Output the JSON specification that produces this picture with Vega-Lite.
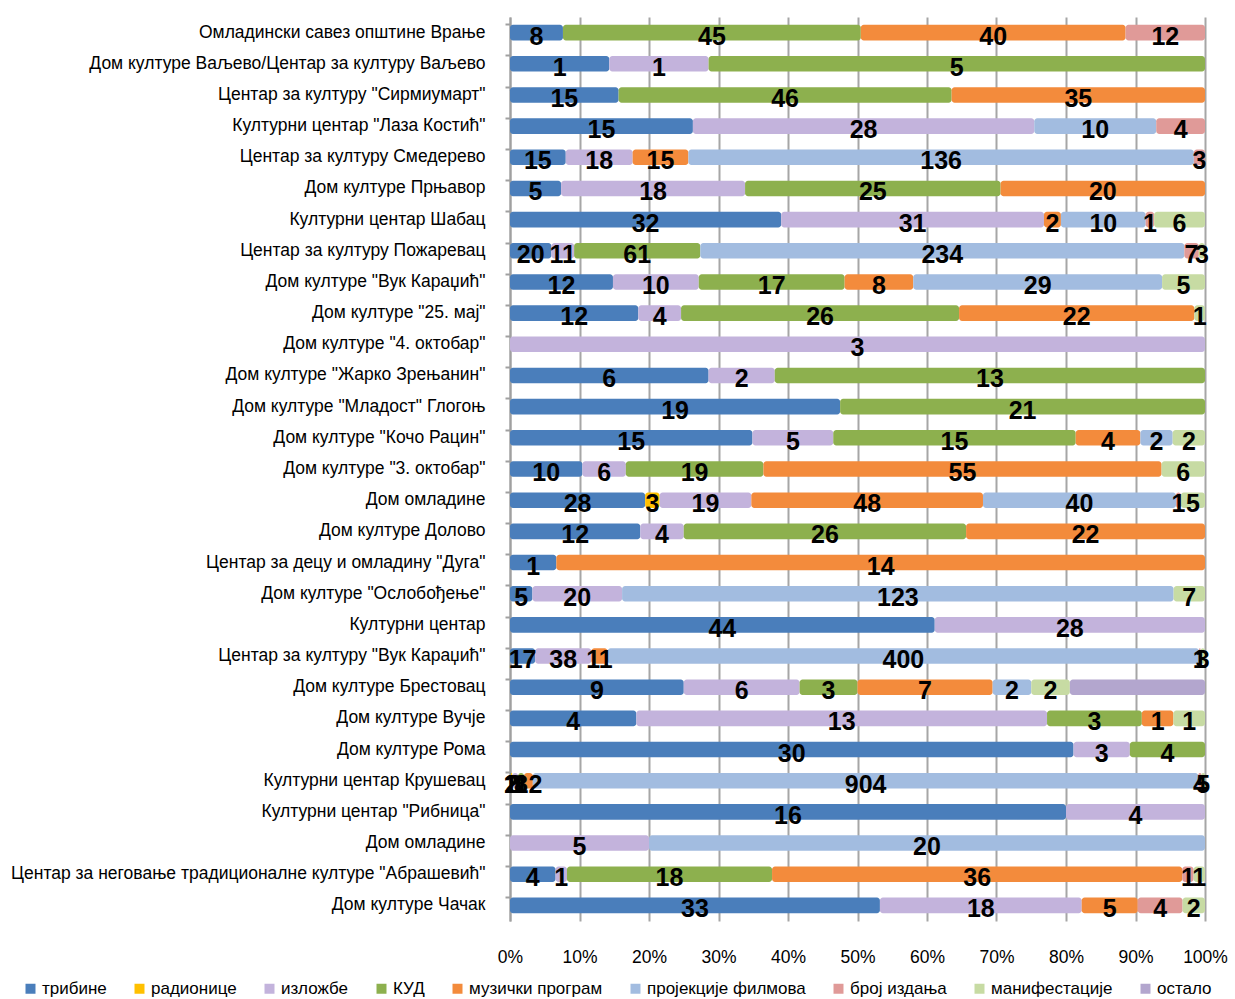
{
  "$schema": "https://vega.github.io/schema/vega-lite/v6.json",
  "width": 695,
  "height": 904,
  "autosize": {"type": "none"},
  "padding": {"left": 510, "top": 17, "right": 30, "bottom": 78},
  "background": "white",
  "config": {"view": {"stroke": null}, "font": "Liberation Sans", "text": {"font": "Liberation Sans"}},
  "data": {"values": [
    {"o": "Омладински савез општине Врање", "r": 1, "c": "трибине", "k": 0, "v": 8},
    {"o": "Омладински савез општине Врање", "r": 1, "c": "КУД", "k": 3, "v": 45},
    {"o": "Омладински савез општине Врање", "r": 1, "c": "музички програм", "k": 4, "v": 40},
    {"o": "Омладински савез општине Врање", "r": 1, "c": "број издања", "k": 6, "v": 12},
    {"o": "Дом културе Ваљево/Центар за културу Ваљево", "r": 2, "c": "трибине", "k": 0, "v": 1},
    {"o": "Дом културе Ваљево/Центар за културу Ваљево", "r": 2, "c": "изложбе", "k": 2, "v": 1},
    {"o": "Дом културе Ваљево/Центар за културу Ваљево", "r": 2, "c": "КУД", "k": 3, "v": 5},
    {"o": "Центар за културу \"Сирмиумарт\"", "r": 3, "c": "трибине", "k": 0, "v": 15},
    {"o": "Центар за културу \"Сирмиумарт\"", "r": 3, "c": "КУД", "k": 3, "v": 46},
    {"o": "Центар за културу \"Сирмиумарт\"", "r": 3, "c": "музички програм", "k": 4, "v": 35},
    {"o": "Културни центар \"Лаза Костић\"", "r": 4, "c": "трибине", "k": 0, "v": 15},
    {"o": "Културни центар \"Лаза Костић\"", "r": 4, "c": "изложбе", "k": 2, "v": 28},
    {"o": "Културни центар \"Лаза Костић\"", "r": 4, "c": "пројекције филмова", "k": 5, "v": 10},
    {"o": "Културни центар \"Лаза Костић\"", "r": 4, "c": "број издања", "k": 6, "v": 4},
    {"o": "Центар за културу Смедерево", "r": 5, "c": "трибине", "k": 0, "v": 15},
    {"o": "Центар за културу Смедерево", "r": 5, "c": "изложбе", "k": 2, "v": 18},
    {"o": "Центар за културу Смедерево", "r": 5, "c": "музички програм", "k": 4, "v": 15},
    {"o": "Центар за културу Смедерево", "r": 5, "c": "пројекције филмова", "k": 5, "v": 136},
    {"o": "Центар за културу Смедерево", "r": 5, "c": "број издања", "k": 6, "v": 3},
    {"o": "Дом културе Прњавор", "r": 6, "c": "трибине", "k": 0, "v": 5},
    {"o": "Дом културе Прњавор", "r": 6, "c": "изложбе", "k": 2, "v": 18},
    {"o": "Дом културе Прњавор", "r": 6, "c": "КУД", "k": 3, "v": 25},
    {"o": "Дом културе Прњавор", "r": 6, "c": "музички програм", "k": 4, "v": 20},
    {"o": "Културни центар Шабац", "r": 7, "c": "трибине", "k": 0, "v": 32},
    {"o": "Културни центар Шабац", "r": 7, "c": "изложбе", "k": 2, "v": 31},
    {"o": "Културни центар Шабац", "r": 7, "c": "музички програм", "k": 4, "v": 2},
    {"o": "Културни центар Шабац", "r": 7, "c": "пројекције филмова", "k": 5, "v": 10},
    {"o": "Културни центар Шабац", "r": 7, "c": "број издања", "k": 6, "v": 1},
    {"o": "Културни центар Шабац", "r": 7, "c": "манифестације", "k": 7, "v": 6},
    {"o": "Центар за културу Пожаревац", "r": 8, "c": "трибине", "k": 0, "v": 20},
    {"o": "Центар за културу Пожаревац", "r": 8, "c": "изложбе", "k": 2, "v": 11},
    {"o": "Центар за културу Пожаревац", "r": 8, "c": "КУД", "k": 3, "v": 61},
    {"o": "Центар за културу Пожаревац", "r": 8, "c": "пројекције филмова", "k": 5, "v": 234},
    {"o": "Центар за културу Пожаревац", "r": 8, "c": "број издања", "k": 6, "v": 7},
    {"o": "Центар за културу Пожаревац", "r": 8, "c": "манифестације", "k": 7, "v": 3},
    {"o": "Дом културе \"Вук Караџић\"", "r": 9, "c": "трибине", "k": 0, "v": 12},
    {"o": "Дом културе \"Вук Караџић\"", "r": 9, "c": "изложбе", "k": 2, "v": 10},
    {"o": "Дом културе \"Вук Караџић\"", "r": 9, "c": "КУД", "k": 3, "v": 17},
    {"o": "Дом културе \"Вук Караџић\"", "r": 9, "c": "музички програм", "k": 4, "v": 8},
    {"o": "Дом културе \"Вук Караџић\"", "r": 9, "c": "пројекције филмова", "k": 5, "v": 29},
    {"o": "Дом културе \"Вук Караџић\"", "r": 9, "c": "манифестације", "k": 7, "v": 5},
    {"o": "Дом културе \"25. мај\"", "r": 10, "c": "трибине", "k": 0, "v": 12},
    {"o": "Дом културе \"25. мај\"", "r": 10, "c": "изложбе", "k": 2, "v": 4},
    {"o": "Дом културе \"25. мај\"", "r": 10, "c": "КУД", "k": 3, "v": 26},
    {"o": "Дом културе \"25. мај\"", "r": 10, "c": "музички програм", "k": 4, "v": 22},
    {"o": "Дом културе \"25. мај\"", "r": 10, "c": "манифестације", "k": 7, "v": 1},
    {"o": "Дом културе \"4. октобар\"", "r": 11, "c": "изложбе", "k": 2, "v": 3},
    {"o": "Дом културе \"Жарко Зрењанин\"", "r": 12, "c": "трибине", "k": 0, "v": 6},
    {"o": "Дом културе \"Жарко Зрењанин\"", "r": 12, "c": "изложбе", "k": 2, "v": 2},
    {"o": "Дом културе \"Жарко Зрењанин\"", "r": 12, "c": "КУД", "k": 3, "v": 13},
    {"o": "Дом културе \"Младост\" Глогоњ", "r": 13, "c": "трибине", "k": 0, "v": 19},
    {"o": "Дом културе \"Младост\" Глогоњ", "r": 13, "c": "КУД", "k": 3, "v": 21},
    {"o": "Дом културе \"Кочо Рацин\"", "r": 14, "c": "трибине", "k": 0, "v": 15},
    {"o": "Дом културе \"Кочо Рацин\"", "r": 14, "c": "изложбе", "k": 2, "v": 5},
    {"o": "Дом културе \"Кочо Рацин\"", "r": 14, "c": "КУД", "k": 3, "v": 15},
    {"o": "Дом културе \"Кочо Рацин\"", "r": 14, "c": "музички програм", "k": 4, "v": 4},
    {"o": "Дом културе \"Кочо Рацин\"", "r": 14, "c": "пројекције филмова", "k": 5, "v": 2},
    {"o": "Дом културе \"Кочо Рацин\"", "r": 14, "c": "манифестације", "k": 7, "v": 2},
    {"o": "Дом културе \"3. октобар\"", "r": 15, "c": "трибине", "k": 0, "v": 10},
    {"o": "Дом културе \"3. октобар\"", "r": 15, "c": "изложбе", "k": 2, "v": 6},
    {"o": "Дом културе \"3. октобар\"", "r": 15, "c": "КУД", "k": 3, "v": 19},
    {"o": "Дом културе \"3. октобар\"", "r": 15, "c": "музички програм", "k": 4, "v": 55},
    {"o": "Дом културе \"3. октобар\"", "r": 15, "c": "манифестације", "k": 7, "v": 6},
    {"o": "Дом омладине", "r": 16, "c": "трибине", "k": 0, "v": 28},
    {"o": "Дом омладине", "r": 16, "c": "радионице", "k": 1, "v": 3},
    {"o": "Дом омладине", "r": 16, "c": "изложбе", "k": 2, "v": 19},
    {"o": "Дом омладине", "r": 16, "c": "музички програм", "k": 4, "v": 48},
    {"o": "Дом омладине", "r": 16, "c": "пројекције филмова", "k": 5, "v": 40},
    {"o": "Дом омладине", "r": 16, "c": "број издања", "k": 6, "v": 1},
    {"o": "Дом омладине", "r": 16, "c": "манифестације", "k": 7, "v": 5},
    {"o": "Дом културе Долово", "r": 17, "c": "трибине", "k": 0, "v": 12},
    {"o": "Дом културе Долово", "r": 17, "c": "изложбе", "k": 2, "v": 4},
    {"o": "Дом културе Долово", "r": 17, "c": "КУД", "k": 3, "v": 26},
    {"o": "Дом културе Долово", "r": 17, "c": "музички програм", "k": 4, "v": 22},
    {"o": "Центар за децу и омладину \"Дуга\"", "r": 18, "c": "трибине", "k": 0, "v": 1},
    {"o": "Центар за децу и омладину \"Дуга\"", "r": 18, "c": "музички програм", "k": 4, "v": 14},
    {"o": "Дом културе \"Ослобођење\"", "r": 19, "c": "трибине", "k": 0, "v": 5},
    {"o": "Дом културе \"Ослобођење\"", "r": 19, "c": "изложбе", "k": 2, "v": 20},
    {"o": "Дом културе \"Ослобођење\"", "r": 19, "c": "пројекције филмова", "k": 5, "v": 123},
    {"o": "Дом културе \"Ослобођење\"", "r": 19, "c": "манифестације", "k": 7, "v": 7},
    {"o": "Културни центар", "r": 20, "c": "трибине", "k": 0, "v": 44},
    {"o": "Културни центар", "r": 20, "c": "изложбе", "k": 2, "v": 28},
    {"o": "Центар за културу \"Вук Караџић\"", "r": 21, "c": "трибине", "k": 0, "v": 17},
    {"o": "Центар за културу \"Вук Караџић\"", "r": 21, "c": "изложбе", "k": 2, "v": 38},
    {"o": "Центар за културу \"Вук Караџић\"", "r": 21, "c": "музички програм", "k": 4, "v": 11},
    {"o": "Центар за културу \"Вук Караџић\"", "r": 21, "c": "пројекције филмова", "k": 5, "v": 400},
    {"o": "Центар за културу \"Вук Караџић\"", "r": 21, "c": "број издања", "k": 6, "v": 1},
    {"o": "Центар за културу \"Вук Караџић\"", "r": 21, "c": "манифестације", "k": 7, "v": 3},
    {"o": "Дом културе Брестовац", "r": 22, "c": "трибине", "k": 0, "v": 9},
    {"o": "Дом културе Брестовац", "r": 22, "c": "изложбе", "k": 2, "v": 6},
    {"o": "Дом културе Брестовац", "r": 22, "c": "КУД", "k": 3, "v": 3},
    {"o": "Дом културе Брестовац", "r": 22, "c": "музички програм", "k": 4, "v": 7},
    {"o": "Дом културе Брестовац", "r": 22, "c": "пројекције филмова", "k": 5, "v": 2},
    {"o": "Дом културе Брестовац", "r": 22, "c": "манифестације", "k": 7, "v": 2},
    {"o": "Дом културе Брестовац", "r": 22, "c": "остало", "k": 8, "v": 7},
    {"o": "Дом културе Вучје", "r": 23, "c": "трибине", "k": 0, "v": 4},
    {"o": "Дом културе Вучје", "r": 23, "c": "изложбе", "k": 2, "v": 13},
    {"o": "Дом културе Вучје", "r": 23, "c": "КУД", "k": 3, "v": 3},
    {"o": "Дом културе Вучје", "r": 23, "c": "музички програм", "k": 4, "v": 1},
    {"o": "Дом културе Вучје", "r": 23, "c": "манифестације", "k": 7, "v": 1},
    {"o": "Дом културе Рома", "r": 24, "c": "трибине", "k": 0, "v": 30},
    {"o": "Дом културе Рома", "r": 24, "c": "изложбе", "k": 2, "v": 3},
    {"o": "Дом културе Рома", "r": 24, "c": "КУД", "k": 3, "v": 4},
    {"o": "Културни центар Крушевац", "r": 25, "c": "трибине", "k": 0, "v": 1},
    {"o": "Културни центар Крушевац", "r": 25, "c": "радионице", "k": 1, "v": 2},
    {"o": "Културни центар Крушевац", "r": 25, "c": "изложбе", "k": 2, "v": 8},
    {"o": "Културни центар Крушевац", "r": 25, "c": "КУД", "k": 3, "v": 8},
    {"o": "Културни центар Крушевац", "r": 25, "c": "музички програм", "k": 4, "v": 12},
    {"o": "Културни центар Крушевац", "r": 25, "c": "пројекције филмова", "k": 5, "v": 904},
    {"o": "Културни центар Крушевац", "r": 25, "c": "број издања", "k": 6, "v": 4},
    {"o": "Културни центар Крушевац", "r": 25, "c": "манифестације", "k": 7, "v": 5},
    {"o": "Културни центар \"Рибница\"", "r": 26, "c": "трибине", "k": 0, "v": 16},
    {"o": "Културни центар \"Рибница\"", "r": 26, "c": "изложбе", "k": 2, "v": 4},
    {"o": "Дом омладине\u200b", "r": 27, "c": "изложбе", "k": 2, "v": 5},
    {"o": "Дом омладине\u200b", "r": 27, "c": "пројекције филмова", "k": 5, "v": 20},
    {"o": "Центар за неговање традиционалне културе \"Абрашевић\"", "r": 28, "c": "трибине", "k": 0, "v": 4},
    {"o": "Центар за неговање традиционалне културе \"Абрашевић\"", "r": 28, "c": "изложбе", "k": 2, "v": 1},
    {"o": "Центар за неговање традиционалне културе \"Абрашевић\"", "r": 28, "c": "КУД", "k": 3, "v": 18},
    {"o": "Центар за неговање традиционалне културе \"Абрашевић\"", "r": 28, "c": "музички програм", "k": 4, "v": 36},
    {"o": "Центар за неговање традиционалне културе \"Абрашевић\"", "r": 28, "c": "број издања", "k": 6, "v": 1},
    {"o": "Центар за неговање традиционалне културе \"Абрашевић\"", "r": 28, "c": "манифестације", "k": 7, "v": 1},
    {"o": "Дом културе Чачак", "r": 29, "c": "трибине", "k": 0, "v": 33},
    {"o": "Дом културе Чачак", "r": 29, "c": "изложбе", "k": 2, "v": 18},
    {"o": "Дом културе Чачак", "r": 29, "c": "музички програм", "k": 4, "v": 5},
    {"o": "Дом културе Чачак", "r": 29, "c": "број издања", "k": 6, "v": 4},
    {"o": "Дом културе Чачак", "r": 29, "c": "манифестације", "k": 7, "v": 2}
  ]},
  "transform": [
    {"stack": "v", "groupby": ["o"], "sort": [{"field": "k", "order": "ascending"}], "offset": "normalize", "as": ["s0", "s1"]},
    {"calculate": "(datum.s0 + datum.s1) / 2", "as": "mid"}
  ],
  "encoding": {
    "y": {
      "field": "o", "type": "nominal",
      "sort": {"field": "r", "op": "min", "order": "ascending"},
      "scale": {"paddingInner": 0.5, "paddingOuter": 0.25},
      "axis": {
        "title": null, "labelFontSize": 17.5, "labelColor": "#000000", "labelLimit": 700,
        "labelPadding": 20, "domain": true, "domainColor": "#A0A0A0", "domainWidth": 2,
        "ticks": true, "tickSize": 5, "tickColor": "#A0A0A0", "tickWidth": 2, "bandPosition": 0
      }
    }
  },
  "layer": [
    {
      "mark": {"type": "bar", "cornerRadius": 3},
      "encoding": {
        "x": {
          "field": "s0", "type": "quantitative", "scale": {"domain": [0, 1]},
          "axis": {
            "title": null, "format": ".0%", "values": [0, 0.1, 0.2, 0.3, 0.4, 0.5, 0.6, 0.7, 0.8, 0.9, 1],
            "grid": true, "gridColor": "#A6A6A6", "gridWidth": 2, "domain": false, "ticks": false,
            "labelPadding": 27, "labelFontSize": 17.5, "labelColor": "#000000", "labelFlush": false
          }
        },
        "x2": {"field": "s1"},
        "color": {
          "field": "c", "type": "nominal",
          "scale": {
            "domain": ["трибине", "радионице", "изложбе", "КУД", "музички програм", "пројекције филмова", "број издања", "манифестације", "остало"],
            "range": ["#4A7EBB", "#FFC000", "#C3B3DC", "#8DB04E", "#F38B3C", "#A2BCE0", "#E09A98", "#C7DBA3", "#B3A6CE"]
          },
          "legend": {
            "title": null, "orient": "none", "legendX": -488, "legendY": 963, "direction": "horizontal",
            "symbolType": "square", "symbolSize": 100, "symbolStrokeWidth": 0, "labelFontSize": 17,
            "labelColor": "#000000", "columnPadding": 24, "labelOffset": 3, "labelLimit": 300
          }
        },
        "order": {"field": "k"}
      }
    },
    {
      "transform": [{"filter": "datum.c != 'остало'"}],
      "mark": {"type": "text", "fontSize": 25, "fontWeight": "bold", "color": "#000000", "dy": 4, "baseline": "middle", "align": "center"},
      "encoding": {
        "x": {"field": "mid", "type": "quantitative"},
        "text": {"field": "v", "type": "quantitative"}
      }
    }
  ]
}
